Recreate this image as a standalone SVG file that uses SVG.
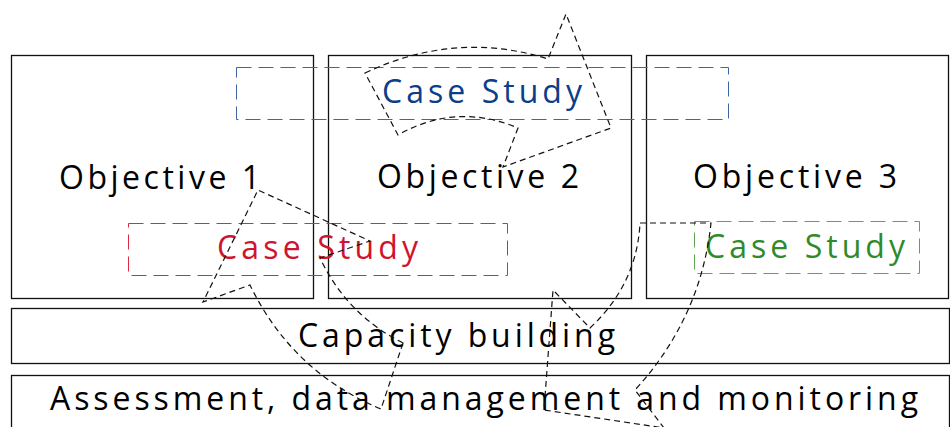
<svg xmlns="http://www.w3.org/2000/svg" width="950" height="427" viewBox="0 0 950 427">
<style>
.box{fill:none;stroke:#111;stroke-width:1.3}
.cs{fill:none;stroke-width:1;stroke-dasharray:15 7}
.t{font-family:"Open Sans","Noto Sans","Liberation Sans",sans-serif;font-size:32px;text-anchor:middle}
.arrow{fill:none;stroke:#111;stroke-width:1.2;stroke-dasharray:6 4}
</style>
<rect width="950" height="427" fill="#fff"/>
<g id="objective1"><rect class="box" x="11.5" y="55.5" width="302" height="243"/><text class="t" x="159.5" y="189" textLength="201" lengthAdjust="spacing">Objective 1</text></g>
<g id="objective2"><rect class="box" x="328.5" y="55.5" width="303" height="243"/><text class="t" x="478" y="188" textLength="202" lengthAdjust="spacing">Objective 2</text></g>
<g id="objective3"><rect class="box" x="646.5" y="55.5" width="302" height="243"/><text class="t" x="795" y="188" textLength="204" lengthAdjust="spacing">Objective 3</text></g>
<g id="capacity"><rect class="box" x="11.5" y="308.5" width="938" height="55"/><text class="t" x="456.5" y="347" textLength="317" lengthAdjust="spacing">Capacity building</text></g>
<g id="assessment"><rect class="box" x="11.5" y="375.5" width="938" height="62"/><text class="t" x="484" y="410" textLength="868" lengthAdjust="spacing">Assessment, data management and monitoring</text></g>
<g id="case-study-blue"><rect class="cs" x="236.5" y="67.5" width="492" height="52" stroke="#3d66a3"/><text class="t" x="482" y="103" fill="#0b3e8a" textLength="200" lengthAdjust="spacing">Case Study</text></g>
<g id="case-study-red"><rect class="cs" x="128.5" y="223.5" width="379" height="52" stroke="#dc2a44"/><text class="t" x="317.5" y="259" fill="#d0142e" textLength="201" lengthAdjust="spacing">Case Study</text></g>
<g id="case-study-green"><rect class="cs" x="694.5" y="221.5" width="225" height="52" stroke="#5fa352"/><text class="t" x="805" y="258" fill="#2f8a2a" textLength="200" lengthAdjust="spacing">Case Study</text></g>
<g id="connectors">
<path class="arrow" d="M365,73 Q456,30 548,59 L566,14 L611,128 L503,167 L518,128 Q456,102 398,135 Z"/>
<path class="arrow" d="M403,343 L381,409 Q292,372 250,285 L203,302 L258,190 L370,241 L320,258 Q347,315 403,343 Z"/>
<path class="arrow" d="M640,223 L711,223 Q701,318 635,390 L664,428 L544,410 L553,290 L590,328 Q637,284 640,223 Z"/>
</g>
</svg>
